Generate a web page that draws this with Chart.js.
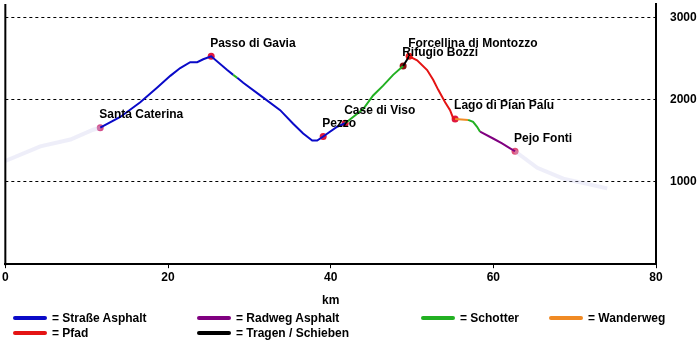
<!DOCTYPE html>
<html>
<head>
<meta charset="utf-8">
<script src="https://cdn.jsdelivr.net/npm/chart.js@4"></script>
<style>
html, body { margin: 0; padding: 0; background: #fff; }
#wrap { position: relative; width: 700px; height: 343px; overflow: hidden;
        font: bold 12px "Liberation Sans", Arial, sans-serif; color: #000; }
#c { position: absolute; left: 0; top: 0; }
.key { position: absolute; height: 14px; line-height: 14px; white-space: nowrap; }
.key i { position: absolute; left: 0; top: 5px; width: 34px; height: 4px; border-radius: 2px; }
.key span { position: absolute; left: 39px; top: 0; }
</style>
</head>
<body>
<div id="wrap">
  <canvas id="c" width="700" height="343"></canvas>
  <div id="legend"></div>
</div>
<script>
// Route profile: distance (km) and elevation (m)
const km = [11.67, 14.13, 16.59, 18.68, 20.28, 21.50, 22.73, 23.59, 24.33, 25.31,
            27.28, 28.02, 28.51, 29.25, 31.34, 33.79, 35.39, 36.62, 37.73, 38.34,
            39.08, 40.80, 41.78, 44.00, 45.22, 46.45, 47.68, 48.91, 49.65, 50.63,
            51.86, 52.60, 53.21, 54.07, 54.68, 55.05, 55.30, 56.90, 57.51, 58.00,
            58.37, 59.97, 61.07, 62.06, 62.67];
const elev = [1660, 1791, 1969, 2148, 2291, 2386, 2457, 2457, 2493, 2529,
              2362, 2303, 2267, 2207, 2053, 1874, 1708, 1589, 1505, 1505,
              1553, 1672, 1714, 1886, 2053, 2172, 2303, 2410, 2529, 2481,
              2362, 2243, 2124, 1969, 1874, 1779, 1767, 1755, 1731, 1672,
              1612, 1529, 1470, 1410, 1374];

// Surface of each stretch between two consecutive profile points
const surface = ['A','A','A','A','A','A','A','A','A','A','A',
                 'S',
                 'A','A','A','A','A','A','A','A','A','A',
                 'S','S','S','S','S',
                 'T',
                 'P','P','P','P','P','P','P','P',
                 'W',
                 'S','S','S',
                 'R','R','R','R'];

// Washed-out approach and exit stretches
const approachKm = [0, 4.3, 8.0, 10.8, 11.67];
const approachElev = [1255, 1434, 1517, 1636, 1660];
const exitKm = [62.67, 65.4, 68.6, 74.0];
const exitElev = [1374, 1172, 1041, 922];

// Named places along the route (index into the profile)
const placeNames = ['Santa Caterina', 'Passo di Gavia', 'Pezzo', 'Case di Viso',
                    'Rifugio Bozzi', 'Forcellina di Montozzo', 'Lago di Pian Palu', 'Pejo Fonti'];
const placeIdx = [0, 9, 20, 22, 27, 28, 36, 44];
const placeColors = ['#d4508c', '#e0183c', '#e0183c', '#e0183c',
                     '#8c1010', '#f01818', '#e0183c', '#e05078'];

const yTicks = [1000, 2000, 3000];

// Surface legend
const surfaceKeys = ['A', 'P', 'R', 'T', 'S', 'W'];
const surfaceNames = ['Straße Asphalt', 'Pfad', 'Radweg Asphalt', 'Tragen / Schieben', 'Schotter', 'Wanderweg'];
const surfaceColors = { A: '#0a0ac8', S: '#22b022', P: '#e41414', R: '#800080', W: '#f08a24', T: '#000000' };

const FONT = "'Liberation Sans', Arial, sans-serif";

// legend placement
const keyPos = [[13, 311], [13, 326], [197, 311], [197, 326], [421, 311], [549, 311]];
const legend = document.getElementById('legend');
surfaceKeys.forEach((k, i) => {
  const d = document.createElement('div');
  d.className = 'key';
  d.style.left = keyPos[i][0] + 'px';
  d.style.top = keyPos[i][1] + 'px';
  const bar = document.createElement('i');
  bar.style.background = surfaceColors[k];
  const t = document.createElement('span');
  t.textContent = '= ' + surfaceNames[i];
  d.appendChild(bar); d.appendChild(t);
  legend.appendChild(d);
});

const pts = (xs, ys) => xs.map((x, i) => ({ x: x, y: ys[i] }));

// left frame line of the plot
const leftEdge = {
  id: 'leftEdge',
  afterDraw(chart) {
    const { ctx, chartArea: a } = chart;
    ctx.save();
    ctx.strokeStyle = '#000';
    ctx.lineWidth = 2;
    ctx.beginPath();
    ctx.moveTo(a.left, a.top);
    ctx.lineTo(a.left, a.bottom + 1);
    ctx.stroke();
    ctx.restore();
  }
};

// place names written above their markers
const placeLabels = {
  id: 'placeLabels',
  afterDatasetsDraw(chart) {
    const meta = chart.getDatasetMeta(3);
    const ctx = chart.ctx;
    ctx.save();
    ctx.font = 'bold 12px ' + FONT;
    ctx.fillStyle = '#000';
    ctx.textAlign = 'left';
    ctx.textBaseline = 'middle';
    meta.data.forEach((el, i) => {
      ctx.fillText(placeNames[i], el.x - 1, el.y - 13);
    });
    ctx.restore();
  }
};

const tickFont = { family: FONT, size: 12, weight: 'bold' };

new Chart(document.getElementById('c'), {
  type: 'line',
  data: {
    datasets: [
      {
        data: pts(approachKm, approachElev),
        borderColor: 'rgba(200,200,236,0.3)',
        borderWidth: 4,
        pointRadius: 0
      },
      {
        data: pts(exitKm, exitElev),
        borderColor: 'rgba(200,200,236,0.3)',
        borderWidth: 4,
        pointRadius: 0
      },
      {
        data: pts(km, elev),
        borderColor: surfaceColors.A,
        borderWidth: 2,
        pointRadius: 0,
        segment: {
          borderColor: c => surfaceColors[surface[c.p0DataIndex]]
        }
      },
      {
        data: placeIdx.map(i => ({ x: km[i], y: elev[i] })),
        showLine: false,
        pointRadius: 3.5,
        pointBorderWidth: 0,
        pointBackgroundColor: placeColors
      }
    ]
  },
  options: {
    responsive: false,
    animation: false,
    layout: { padding: { left: 5, right: 0, top: 0, bottom: 35 } },
    plugins: { legend: { display: false }, tooltip: { enabled: false } },
    scales: {
      x: {
        type: 'linear', min: 0, max: 80,
        ticks: { stepSize: 20, color: '#000', padding: 2, maxRotation: 0, font: tickFont },
        grid: { drawOnChartArea: false, drawTicks: true, tickLength: 4, color: '#000', lineWidth: 1 },
        border: { display: true, color: '#000', width: 2 },
        title: { display: true, text: 'km', color: '#000', font: tickFont,
                 padding: { top: 7, bottom: 0 } }
      },
      y: {
        position: 'right', min: 0, max: 3165,
        afterBuildTicks: s => { s.ticks = yTicks.map(v => ({ value: v })); },
        afterFit: s => { s.width = 44; s.paddingTop = 0; s.paddingBottom = 0; },
        ticks: { color: '#000', padding: 14, font: tickFont, callback: v => String(v) },
        grid: { color: '#000', lineWidth: 1, drawTicks: false },
        border: { display: true, color: '#000', width: 2, dash: [3, 3] }
      }
    }
  },
  plugins: [leftEdge, placeLabels]
});
</script>
</body>
</html>
